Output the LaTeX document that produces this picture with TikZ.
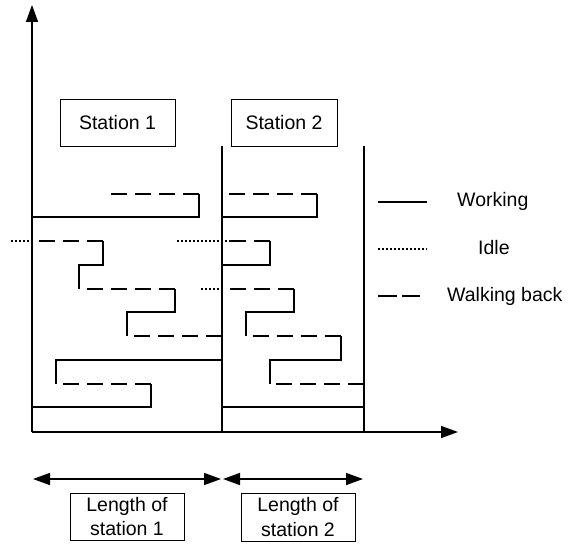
\documentclass[tikz,border=0pt]{standalone}
\usepackage{fontspec}
\setmainfont{Liberation Sans}
\usetikzlibrary{arrows.meta}
\begin{document}
\begin{tikzpicture}[x=1pt,y=-1pt,
  work/.style={line width=1.5pt},
  walk/.style={line width=1.5pt, dash pattern=on 16pt off 8pt},
  idle/.style={line width=1.5pt, dash pattern=on 2pt off 2pt},
  axis/.style={line width=1.5pt, -{Triangle[length=17pt,width=12pt]}},
  dimarrow/.style={line width=1.5pt, {Triangle[length=17pt,width=12pt]}-{Triangle[length=17pt,width=12pt]}},
  lbl/.style={font=\fontsize{19.5}{24.3}\selectfont},
  box/.style={draw, line width=0.9pt, inner sep=0pt, lbl}]
\useasboundingbox (0,0) rectangle (569,543);
% axes
\coordinate (o) at (32,432);
\coordinate (ytop) at (32,5);
\coordinate (xend) at (458,432);
\draw[axis] (o) -- (ytop);
\draw[axis] (o) -- (xend);
% station boundaries
\draw[work] (222,146) -- (222,432);
\draw[work] (364,146) -- (364,432);
% station labels
\node[box, minimum width=115pt, minimum height=47pt] (st1) at (117.5,122.5) {Station 1};
\node[box, minimum width=106pt, minimum height=47pt] (st2) at (284,122.5) {Station 2};
% station 1 operator paths
\draw[walk] (199,194) -- (111,194);
\draw[work] (199,194) -- (199,217) -- (32,217);
\draw[idle] (11,241) -- (32,241);
\draw[walk] (103,241) -- (32,241);
\draw[work] (103,241) -- (103,265) -- (79,265) -- (79,289);
\draw[walk] (175,289) -- (79,289);
\draw[work] (175,289) -- (175,312) -- (127,312) -- (127,336);
\draw[walk] (222,336) -- (127,336);
\draw[work] (222,360) -- (56,360) -- (56,384);
\draw[walk] (151,384) -- (56,384);
\draw[work] (151,384) -- (151,407) -- (32,407);
% station 2 operator paths
\draw[walk] (317,194) -- (222,194);
\draw[work] (317,194) -- (317,217) -- (222,217);
\draw[idle] (177,241) -- (231,241);
\draw[walk] (270,241) -- (222,241);
\draw[work] (270,241) -- (270,265) -- (222,265);
\draw[idle] (201,289) -- (222,289);
\draw[walk] (294,289) -- (222,289);
\draw[work] (294,289) -- (294,312) -- (246,312) -- (246,336);
\draw[walk] (341,336) -- (246,336);
\draw[work] (341,336) -- (341,360) -- (270,360) -- (270,384);
\draw[walk] (364,384) -- (270,384);
\draw[work] (222,407) -- (364,407);
% legend
\draw[work] (378,202) -- (427,202);
\draw[idle] (378,249) -- (427,249);
\draw[line width=1.5pt, dash pattern=on 19pt off 5pt] (378,296) -- (420,296);
\node[lbl, anchor=base west, inner sep=0pt] (lwork) at (457,206.7) {Working};
\node[lbl, anchor=base west, inner sep=0pt] (lidle) at (478,254.3) {Idle};
\node[lbl, anchor=base west, inner sep=0pt] (lwalk) at (447,301.7) {Walking back};
% length arrows
\coordinate (a1) at (33,479);
\coordinate (a2) at (221,479);
\coordinate (b1) at (223,479);
\coordinate (b2) at (363,479);
\draw[dimarrow] (a1) -- (a2);
\draw[dimarrow] (b1) -- (b2);
\node[box, minimum width=114pt, minimum height=47pt, align=center] (len1) at (127,516.5) {Length of\\station 1};
\node[box, minimum width=114pt, minimum height=48pt, align=center] (len2) at (298,517) {Length of\\station 2};
\end{tikzpicture}
\end{document}
